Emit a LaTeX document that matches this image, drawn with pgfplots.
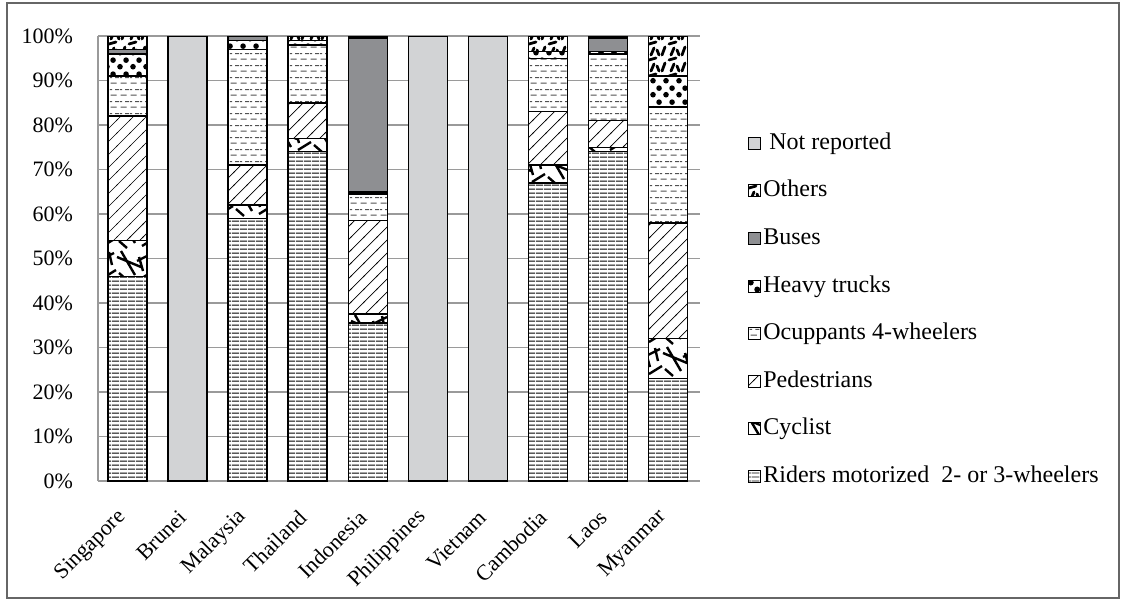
\documentclass[border=0pt]{standalone}
\usepackage{fontspec}
\setmainfont{Liberation Serif}
\usepackage{pgfplots}
\pgfplotsset{compat=1.18}
\usetikzlibrary{patterns}

\definecolor{notrep}{HTML}{D2D3D5}
\definecolor{busgray}{HTML}{8E8F92}
\definecolor{gridgray}{HTML}{9A9A9A}
\definecolor{dashgray}{HTML}{505050}

% riders: horizontal lines
\pgfdeclarepatternformonly{rid}{\pgfqpoint{0pt}{0pt}}{\pgfqpoint{4pt}{2.2pt}}{\pgfqpoint{4pt}{2.2pt}}{%
  \pgfsetlinewidth{0.5pt}
  \pgfpathmoveto{\pgfqpoint{0pt}{1.1pt}}\pgfpathlineto{\pgfqpoint{4pt}{1.1pt}}
  \pgfusepath{stroke}}
% pedestrians: diagonal lines
\pgfdeclarepatternformonly{ped}{\pgfqpoint{-0.5pt}{-0.5pt}}{\pgfqpoint{7pt}{7pt}}{\pgfqpoint{6.5pt}{6.5pt}}{%
  \pgfsetlinewidth{0.35pt}
  \pgfpathmoveto{\pgfqpoint{-0.5pt}{-0.5pt}}\pgfpathlineto{\pgfqpoint{7pt}{7pt}}
  \pgfusepath{stroke}}
% occupants: dashed rows
\pgfdeclarepatternformonly{occ}{\pgfqpoint{0pt}{0pt}}{\pgfqpoint{5pt}{6pt}}{\pgfqpoint{5pt}{6pt}}{%
  \pgfsetlinewidth{0.55pt}
  \pgfpathmoveto{\pgfqpoint{0.3pt}{1.5pt}}\pgfpathlineto{\pgfqpoint{3.6pt}{1.5pt}}
  \pgfpathmoveto{\pgfqpoint{2.8pt}{4.5pt}}\pgfpathlineto{\pgfqpoint{5pt}{4.5pt}}
  \pgfpathmoveto{\pgfqpoint{0pt}{4.5pt}}\pgfpathlineto{\pgfqpoint{1.1pt}{4.5pt}}
  \pgfusepath{stroke}}
% heavy trucks: big dots
\pgfdeclarepatternformonly{trk}{\pgfqpoint{0pt}{0pt}}{\pgfqpoint{6.5pt}{7pt}}{\pgfqpoint{6.5pt}{7pt}}{%
  \pgfpathcircle{\pgfqpoint{1.625pt}{1.75pt}}{1.5pt}
  \pgfpathcircle{\pgfqpoint{4.875pt}{5.25pt}}{1.5pt}
  \pgfusepath{fill}}
% cyclist: long thick strokes
\pgfdeclarepatternformonly{cyc}{\pgfqpoint{-1pt}{-1pt}}{\pgfqpoint{21pt}{17pt}}{\pgfqpoint{19.5pt}{16pt}}{%
  \pgfsetlinewidth{1.2pt}
  \pgfpathmoveto{\pgfqpoint{0pt}{12pt}}\pgfpathlineto{\pgfqpoint{12pt}{7pt}}
  \pgfpathmoveto{\pgfqpoint{2pt}{15pt}}\pgfpathlineto{\pgfqpoint{9pt}{3pt}}
  \pgfpathmoveto{\pgfqpoint{10pt}{10pt}}\pgfpathlineto{\pgfqpoint{18pt}{14pt}}
  \pgfpathmoveto{\pgfqpoint{12.5pt}{1.5pt}}\pgfpathlineto{\pgfqpoint{19pt}{5.5pt}}
  \pgfpathmoveto{\pgfqpoint{15.5pt}{14.5pt}}\pgfpathlineto{\pgfqpoint{17pt}{8pt}}
  \pgfpathmoveto{\pgfqpoint{1pt}{4pt}}\pgfpathlineto{\pgfqpoint{5pt}{0.5pt}}
  \pgfpathmoveto{\pgfqpoint{13pt}{5pt}}\pgfpathlineto{\pgfqpoint{11pt}{12pt}}
  \pgfusepath{stroke}}
% others: short thick dashes
\pgfdeclarepatternformonly{oth}{\pgfqpoint{-1pt}{-1pt}}{\pgfqpoint{11pt}{9pt}}{\pgfqpoint{10pt}{8pt}}{%
  \pgfsetlinewidth{1.4pt}\pgfsetroundcap
  \pgfpathmoveto{\pgfqpoint{1pt}{1pt}}\pgfpathlineto{\pgfqpoint{2.5pt}{5pt}}
  \pgfpathmoveto{\pgfqpoint{4.5pt}{6.5pt}}\pgfpathlineto{\pgfqpoint{8pt}{7.5pt}}
  \pgfpathmoveto{\pgfqpoint{5.5pt}{1pt}}\pgfpathlineto{\pgfqpoint{7pt}{4.5pt}}
  \pgfpathmoveto{\pgfqpoint{8.5pt}{3.5pt}}\pgfpathlineto{\pgfqpoint{9.5pt}{1pt}}
  \pgfusepath{stroke}}

\begin{document}
\begin{tikzpicture}
\useasboundingbox (0,0) rectangle (561pt,300.5pt);
\draw[gray!80!black, line width=0.7pt] (3.5pt,1.5pt) rectangle (559.5pt,299pt);
\begin{axis}[
  at={(49pt,60pt)}, anchor=south west,
  scale only axis, width=301pt, height=222.5pt,
  ybar stacked, bar width=19.5pt,
  xmin=-0.49, xmax=9.53, ymin=0, ymax=100,
  xtick={0,...,9},
  xticklabels={Singapore,Brunei,Malaysia,Thailand,Indonesia,Philippines,Vietnam,Cambodia,Laos,Myanmar},
  ytick={0,10,...,100},
  yticklabels={0\%,10\%,20\%,30\%,40\%,50\%,60\%,70\%,80\%,90\%,100\%},
  ymajorgrids, grid style={gridgray, line width=0.6pt},
  axis lines*=left, axis line style={-, gridgray, line width=0.75pt},
  major tick length=0pt,
  tick label style={font=\fontsize{11}{13}\selectfont},
  yticklabel style={xshift=-9pt},
  xticklabel style={font=\fontsize{11}{13}\selectfont, yshift=-14pt, rotate=45, anchor=east},
  every axis plot/.append style={draw=black, line width=0.75pt},
  legend image code/.code={\draw[#1, line width=0.5pt] (0pt,-3pt) rectangle (6pt,3pt);},
  reverse legend, legend cell align=left,
  legend style={at={(1.0797,0.789)}, anchor=north west, draw=none, fill=none,
    inner sep=0pt, row sep=10.8pt,
    nodes={font=\fontsize{12}{14}\selectfont, text height=8.5pt, text depth=2.5pt, inner sep=1pt}},
]
\addplot[fill=white, postaction={pattern=rid}] coordinates
  {(0,46) (1,0) (2,59) (3,74) (4,35.5) (5,0) (6,0) (7,67) (8,74) (9,23)};
\addlegendentry{Riders motorized\ \ 2- or 3-wheelers}
\addplot[fill=white, postaction={pattern=cyc}] coordinates
  {(0,8) (1,0) (2,3) (3,3) (4,2) (5,0) (6,0) (7,4) (8,1) (9,9)};
\addlegendentry{Cyclist}
\addplot[fill=white, postaction={pattern=ped}] coordinates
  {(0,28) (1,0) (2,9) (3,8) (4,21) (5,0) (6,0) (7,12) (8,6) (9,26)};
\addlegendentry{Pedestrians}
\addplot[fill=white, postaction={pattern=occ, pattern color=dashgray}] coordinates
  {(0,9) (1,0) (2,26) (3,13) (4,6) (5,0) (6,0) (7,12) (8,15) (9,26)};
\addlegendentry{Ocuppants 4-wheelers}
\addplot[fill=white, postaction={pattern=trk}] coordinates
  {(0,5) (1,0) (2,2) (3,1) (4,0.5) (5,0) (6,0) (7,1.5) (8,0.5) (9,7)};
\addlegendentry{Heavy trucks}
\addplot[fill=busgray] coordinates
  {(0,1) (1,0) (2,1) (3,0) (4,34.6) (5,0) (6,0) (7,0) (8,3) (9,0)};
\addlegendentry{Buses}
\addplot[fill=white, postaction={pattern=oth}] coordinates
  {(0,3) (1,0) (2,0) (3,1) (4,0.4) (5,0) (6,0) (7,3.5) (8,0.5) (9,9)};
\addlegendentry{Others}
\addplot[fill=notrep] coordinates
  {(0,0) (1,100) (2,0) (3,0) (4,0) (5,100) (6,100) (7,0) (8,0) (9,0)};
\addlegendentry{\ Not reported}
\end{axis}
\end{tikzpicture}
\end{document}
